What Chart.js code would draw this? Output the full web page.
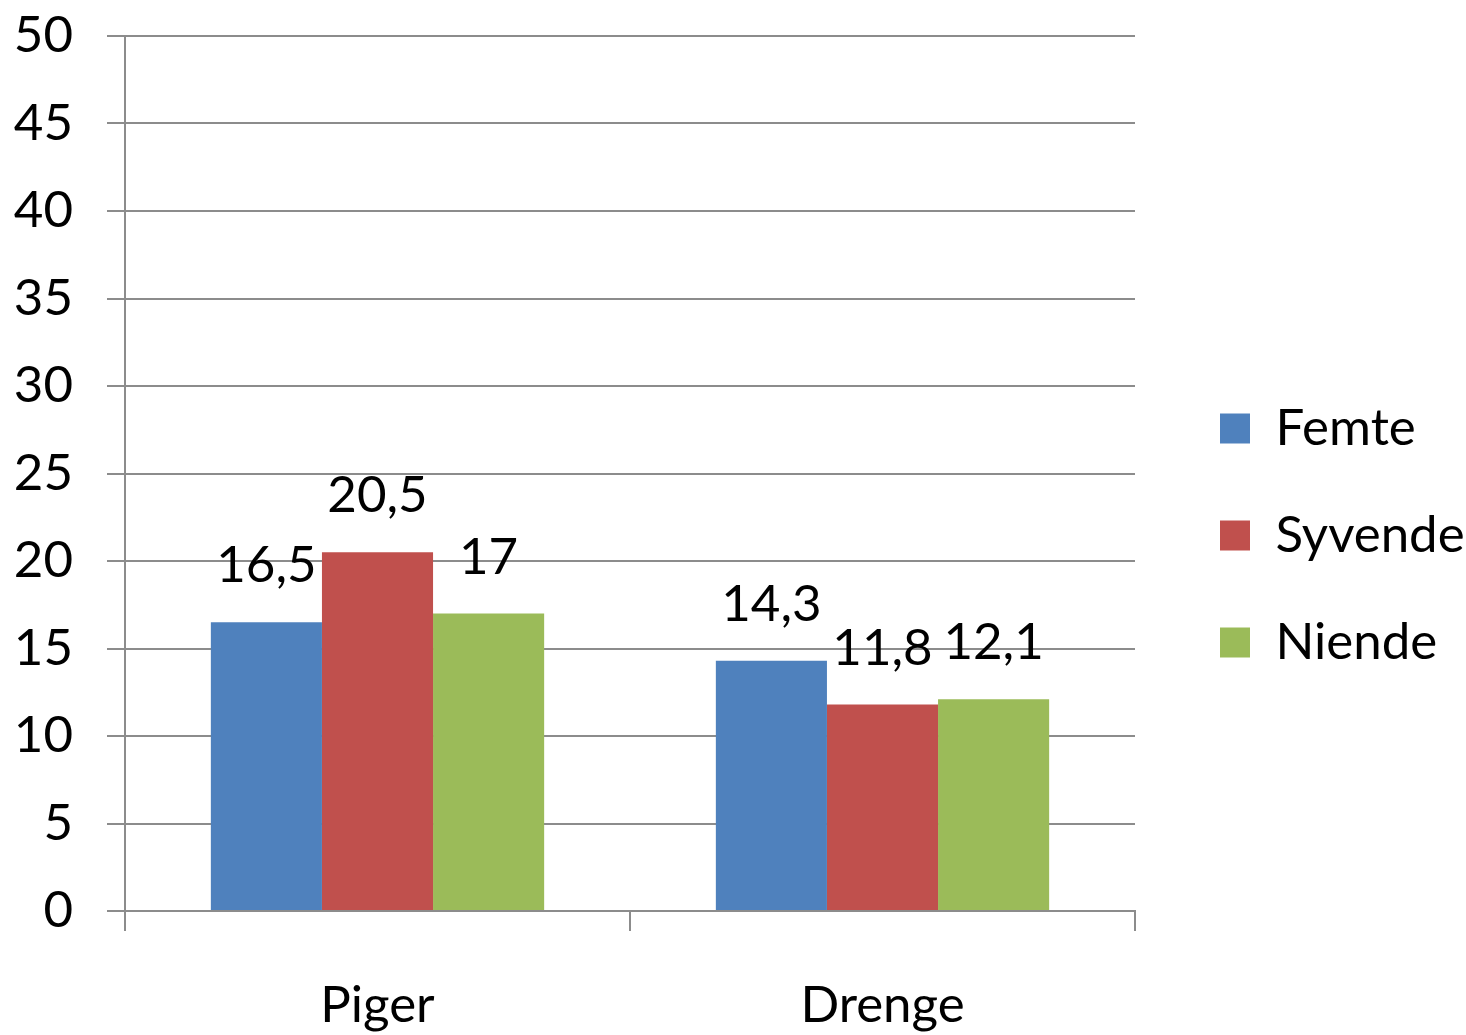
<!DOCTYPE html>
<html>
<head>
<meta charset="utf-8">
<script src="https://cdn.jsdelivr.net/npm/chart.js@4/dist/chart.umd.min.js"></script>
<style>
  body { margin: 0; background: #fff; }
  canvas { display: block; }
</style>
</head>
<body>
<canvas id="myChart" width="1466" height="1035"></canvas>
<script>
const categories = ["Piger", "Drenge"];
const seriesNames = ["Femte", "Syvende", "Niende"];
const femte = [16.5, 14.3];
const syvende = [20.5, 11.8];
const niende = [17, 12.1];
const colors = ["#4f81bd", "#c0504d", "#9bbb59"];

const FONT = "Lato, 'Liberation Sans', sans-serif";
const SIZE = 51;
const gridColor = "#8c8c8c";

// values written over each bar, decimal comma
const valueLabels = {
  id: "valueLabels",
  afterDatasetsDraw(chart) {
    let ctx = chart.ctx;
    ctx.save();
    ctx.font = SIZE + "px " + FONT;
    ctx.fillStyle = "#000";
    ctx.textAlign = "center";
    ctx.textBaseline = "alphabetic";
    chart.data.datasets.forEach((ds, i) => {
      chart.getDatasetMeta(i).data.forEach((bar, j) => {
        let txt = String(ds.data[j]).replace(".", ",");
        ctx.fillText(txt, bar.x, bar.y - 40);
      });
    });
    ctx.restore();
  }
};

let data = {
  labels: categories,
  datasets: [femte, syvende, niende].map((values, i) => ({
    label: seriesNames[i],
    data: values,
    backgroundColor: colors[i],
    borderWidth: 0
  }))
};

new Chart(document.getElementById("myChart"), {
  type: "bar",
  data,
  plugins: [valueLabels],
  options: {
    responsive: false,
    animation: false,
    layout: { padding: { top: 36, right: 0, left: 0, bottom: 0 } },
    datasets: {
      bar: { categoryPercentage: 0.66, barPercentage: 1.0 }
    },
    plugins: {
      tooltip: { enabled: false },
      legend: {
        position: "right",
        maxWidth: 302,
        labels: {
          font: { family: FONT, size: SIZE },
          color: "#000",
          boxWidth: 30,
          boxHeight: 30,
          padding: 56
        }
      }
    },
    scales: {
      x: {
        grid: {
          offset: true,
          drawOnChartArea: false,
          color: gridColor,
          lineWidth: 2,
          tickLength: 20
        },
        border: { color: gridColor, width: 2 },
        ticks: {
          font: { family: FONT, size: SIZE },
          color: "#000",
          padding: 44
        },
        afterFit(scale) { scale.height = 124; }
      },
      y: {
        min: 0,
        max: 50,
        ticks: {
          stepSize: 5,
          font: { family: FONT, size: SIZE },
          color: "#000",
          padding: 34
        },
        grid: { color: gridColor, lineWidth: 2, tickLength: 18 },
        border: { color: gridColor, width: 2 },
        afterFit(scale) {
          scale.width = 125;
          scale.paddingTop = 0;
          scale.paddingBottom = 0;
        }
      },
      // empty gap between plot and legend
      gap: {
        type: "linear",
        position: "right",
        grid: { display: false },
        border: { display: false },
        ticks: { display: false },
        afterFit(scale) {
          scale.width = 29;
          scale.paddingTop = 0;
          scale.paddingBottom = 0;
        }
      }
    }
  }
});
</script>
</body>
</html>
